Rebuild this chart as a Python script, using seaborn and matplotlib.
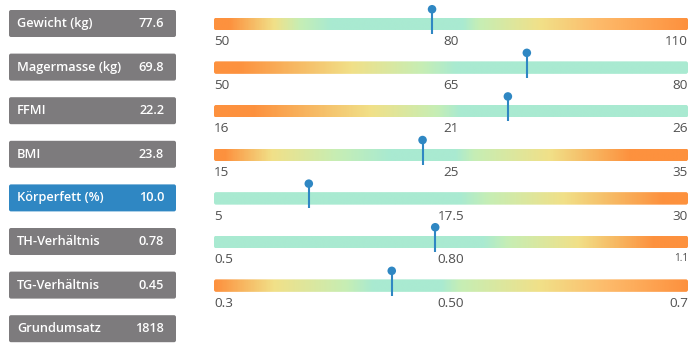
import numpy as np
import matplotlib.pyplot as plt
import seaborn as sns
from matplotlib.colors import LinearSegmentedColormap
from matplotlib.patches import FancyBboxPatch

# data
names = ["Gewicht (kg)", "Magermasse (kg)", "FFMI", "BMI", "Körperfett (%)",
         "TH-Verhältnis", "TG-Verhältnis", "Grundumsatz"]
values = [77.6, 69.8, 22.2, 23.8, 10.0, 0.78, 0.45, 1818]
value_labels = ["77.6", "69.8", "22.2", "23.8", "10.0", "0.78", "0.45", "1818"]
highlight = "Körperfett (%)"

lows = [50, 50, 16, 15, 5, 0.5, 0.3]
mids = [80, 65, 21, 25, 17.5, 0.80, 0.50]
highs = [110, 80, 26, 35, 30, 1.1, 0.7]
tick_texts = [["50", "80", "110"], ["50", "65", "80"], ["16", "21", "26"],
              ["15", "25", "35"], ["5", "17.5", "30"], ["0.5", "0.80", "1.1"],
              ["0.3", "0.50", "0.7"]]
small_labels = {"1.1"}

# colours of the range gradients
O, LO, Y, G, M = "#fd913e", "#fdbb6b", "#f1e088", "#c6eeb5", "#a9ead1"
stops = [
    [(0, O), (0.03, O), (0.125, Y), (0.18, G), (0.245, M), (0.525, M), (0.56, G), (0.69, Y), (0.81, LO), (1, O)],
    [(0, O), (0.05, O), (0.29, Y), (0.44, G), (0.51, M), (1, M)],
    [(0, O), (0.08, O), (0.33, Y), (0.47, G), (0.52, M), (1, M)],
    [(0, O), (0.02, O), (0.12, Y), (0.26, G), (0.37, M), (0.51, M), (0.55, G), (0.71, Y), (0.88, O), (1, O)],
    [(0, M), (0.52, M), (0.58, G), (0.74, Y), (0.95, O), (1, O)],
    [(0, M), (0.57, M), (0.62, G), (0.77, Y), (0.93, O), (1, O)],
    [(0, O), (0.125, Y), (0.28, G), (0.335, M), (0.48, M), (0.52, G), (0.69, Y), (0.83, LO), (1, O)],
]

gray = "#7d7b7d"
blue = "#2f87c3"

sns.set_theme(style="white")
plt.rcParams['font.family'] = ['Open Sans', 'DejaVu Sans']

W, H = 700, 352
fig = plt.figure(figsize=(7, 3.52), dpi=100)


def rect(x, y, w, h):
    # pixel box measured from the top-left -> figure fraction
    return [x / W, 1 - (y + h) / H, w / W, h / H]


for i, name in enumerate(names):
    cy = 23.5 + 43.6 * i

    bax = fig.add_axes(rect(9, cy - 13.5, 167, 27))
    bax.set_axis_off()
    bax.add_patch(FancyBboxPatch((0, 0), 1, 1, boxstyle="round,pad=0,rounding_size=0.012",
                                 mutation_aspect=167 / 27, transform=bax.transAxes,
                                 facecolor=blue if name == highlight else gray,
                                 edgecolor="none", clip_on=False))
    bax.text(8 / 167, 0.5, name, transform=bax.transAxes, color="white",
             fontsize=9.2, fontweight="semibold", va="center", ha="left")
    bax.text(1 - 12 / 167, 0.5, value_labels[i], transform=bax.transAxes, color="white",
             fontsize=9.2, fontweight="semibold", va="center", ha="right")

    if i >= len(lows):
        continue

    lo, hi = lows[i], highs[i]
    gax = fig.add_axes(rect(214, cy + 0.5 - 6.25, 474, 12.5))
    cmap = LinearSegmentedColormap.from_list(f"range{i}", stops[i])
    img = gax.imshow(np.linspace(0, 1, 600)[None, :], cmap=cmap, extent=(lo, hi, -0.5, 0.5),
                     aspect="auto", interpolation="bilinear")
    clip = FancyBboxPatch((0, 0), 1, 1, boxstyle="round,pad=0,rounding_size=0.0045",
                          mutation_aspect=474 / 12.5, transform=gax.transAxes,
                          facecolor="none", edgecolor="none")
    gax.add_patch(clip)
    img.set_clip_path(clip)

    sns.scatterplot(x=[values[i]], y=[1.18], ax=gax, s=38, color=blue,
                    edgecolor="none", clip_on=False, zorder=5, legend=False)
    gax.vlines(values[i], -0.8, 1.18, color=blue, lw=1.5, clip_on=False, zorder=4)

    gax.set_xlim(lo, hi)
    gax.set_ylim(-0.5, 0.5)
    gax.set_yticks([])
    gax.set_xticks([lo, mids[i], hi])
    gax.set_xticklabels(tick_texts[i])
    gax.tick_params(axis="x", length=0, pad=3.5, labelsize=9.7, labelcolor="#505050", bottom=False)
    for lab, ha in zip(gax.get_xticklabels(), ["left", "center", "right"]):
        lab.set_ha(ha)
        if lab.get_text() in small_labels:
            lab.set_fontsize(7.2)
    gax.set_xlabel("")
    gax.set_ylabel("")
    for s in gax.spines.values():
        s.set_visible(False)

fig.savefig("out.png", dpi=100)
plt.close(fig)
